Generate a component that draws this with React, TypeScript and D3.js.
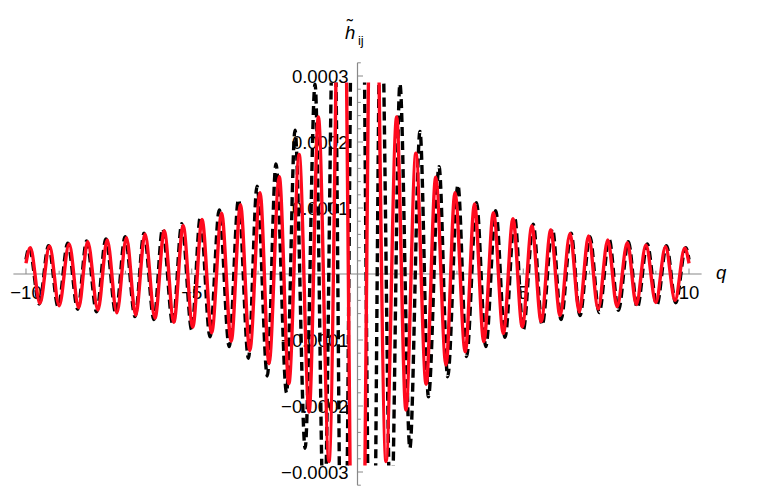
import React from "react";
import * as d3 from "d3";

// extrema (q, h)
const redSeries: [number, number][] = [
  [-10.0, 0.0000162], [-9.87, 0.0000398], [-9.58, -0.0000444], [-9.29, 0.0000424],
  [-9.0, -0.000048], [-8.7, 0.0000455], [-8.41, -0.000051], [-8.14, 0.000049],
  [-7.83, -0.0000545], [-7.55, 0.0000515], [-7.26, -0.0000586], [-6.97, 0.000055],
  [-6.69, -0.0000626], [-6.41, 0.0000606], [-6.11, -0.000067], [-5.83, 0.0000652],
  [-5.54, -0.000073], [-5.26, 0.0000732], [-4.97, -0.0000805], [-4.69, 0.0000825],
  [-4.4, -0.000089], [-4.1, 0.000092], [-3.81, -0.000102], [-3.53, 0.000105],
  [-3.25, -0.000116], [-2.94, 0.000123], [-2.67, -0.000136], [-2.36, 0.0001475],
  [-2.07, -0.000166], [-1.76, 0.000181], [-1.46, -0.000209], [-1.18, 0.000238],
  [-0.86, -0.000284], [-0.48, 0.00072], [0, -0.00113], [0.48, 0.00072],
  [0.86, -0.000284], [1.18, 0.000238], [1.46, -0.000206], [1.76, 0.000183],
  [2.07, -0.000167], [2.36, 0.0001465], [2.67, -0.000138], [2.94, 0.000123],
  [3.25, -0.000118], [3.53, 0.000106], [3.81, -0.0001025], [4.1, 0.000093],
  [4.4, -0.00009], [4.69, 0.0000836], [4.97, -0.00008], [5.26, 0.0000727],
  [5.54, -0.000072], [5.83, 0.0000667], [6.11, -0.000063], [6.41, 0.0000616],
  [6.69, -0.0000575], [6.97, 0.0000576], [7.26, -0.000053], [7.55, 0.0000515],
  [7.83, -0.0000495], [8.14, 0.0000475], [8.41, -0.0000462], [8.7, 0.000044],
  [9.0, -0.0000432], [9.29, 0.0000414], [9.58, -0.0000398], [9.87, 0.000039],
  [10.0, 0.0000162],
];

const blackSeries: [number, number][] = [
  [-10.0, 0.000022], [-9.9, 0.0000405], [-9.6, -0.0000455], [-9.32, 0.0000429],
  [-9.03, -0.0000495], [-8.74, 0.0000465], [-8.44, -0.0000535], [-8.17, 0.00005],
  [-7.87, -0.0000571], [-7.59, 0.000053], [-7.29, -0.0000596], [-7.01, 0.0000565],
  [-6.71, -0.0000646], [-6.44, 0.0000617], [-6.14, -0.000069], [-5.88, 0.0000686],
  [-5.57, -0.0000765], [-5.3, 0.0000762], [-5.0, -0.0000848], [-4.74, 0.0000864],
  [-4.45, -0.000095], [-4.17, 0.000097], [-3.87, -0.00011], [-3.59, 0.000113],
  [-3.29, -0.0001277], [-3.03, 0.000133], [-2.72, -0.0001545], [-2.46, 0.0001667],
  [-2.14, -0.00018], [-1.885, 0.000218], [-1.58, -0.000264], [-1.28, 0.000288],
  [-1.01, -0.0004], [-0.71, 0.00045], [-0.44, -0.0007], [0, 0.0012],
  [0.44, -0.0007], [0.71, 0.00045], [1.01, -0.0004], [1.28, 0.000288],
  [1.58, -0.000264], [1.885, 0.000216], [2.14, -0.000186], [2.46, 0.0001626],
  [2.72, -0.0001556], [3.03, 0.000135], [3.29, -0.000125], [3.59, 0.000108],
  [3.87, -0.00011], [4.17, 0.000096], [4.45, -0.000096], [4.74, 0.0000855],
  [5.0, -0.0000848], [5.3, 0.0000755], [5.57, -0.0000773], [5.88, 0.0000685],
  [6.14, -0.000069], [6.44, 0.000062], [6.71, -0.000063], [7.01, 0.0000567],
  [7.29, -0.0000585], [7.59, 0.0000525], [7.87, -0.000055], [8.17, 0.000049],
  [8.44, -0.000051], [8.74, 0.0000455], [9.03, -0.000047], [9.32, 0.000043],
  [9.6, -0.0000435], [9.9, 0.00004], [10.0, 0.000022],
];

const xTickValues = [-10, -5, 5, 10];
const xTickLabels = ["\u221210", "\u22125", "5", "10"];
const yTickValues = [-0.0003, -0.0002, -0.0001, 0.0001, 0.0002, 0.0003];
const yTickLabels = ["\u22120.0003", "\u22120.0002", "\u22120.0001", "0.0001", "0.0002", "0.0003"];

const W = 780;
const H = 498;
const FONT = "'Liberation Sans', Arial, sans-serif";

export default function App() {
  const x = d3.scaleLinear().domain([-10.38, 10.38]).range([13.4, 701.6]);
  const y = d3.scaleLinear().domain([-0.00032, 0.00032]).range([485.2, 62.8]);
  const clipTop = y(0.00029);
  const clipBottom = y(-0.00029);

  const line = d3
    .line<[number, number]>()
    .x((d) => x(d[0]))
    .y((d) => y(d[1]))
    .curve(d3.curveMonotoneX);

  const x0 = x(0);
  const y0 = y(0);

  const xMinor = d3.range(-10, 11, 1).filter((v) => v !== 0 && !xTickValues.includes(v));
  const yMinor = d3
    .range(-16, 17, 1)
    .map((k) => k * 0.00002)
    .filter((v, i) => (i - 16) % 5 !== 0);

  const axisColor = "#888";

  return (
    <svg
      width={W}
      height={H}
      style={{ position: "absolute", left: 0, top: 0, background: "#fff" }}
    >
      <defs>
        <clipPath id="plotClip">
          <rect x={x(-10.38)} y={clipTop} width={x(10.38) - x(-10.38)} height={clipBottom - clipTop} />
        </clipPath>
      </defs>

      {/* x axis */}
      <line x1={x(-10.38)} x2={x(10.38)} y1={y0} y2={y0} stroke={axisColor} strokeWidth={1.2} />
      {xMinor.map((v) => (
        <line key={"xm" + v} x1={x(v)} x2={x(v)} y1={y0} y2={y0 - 3.3} stroke={axisColor} strokeWidth={1} />
      ))}
      {xTickValues.map((v, i) => (
        <g key={"xt" + v}>
          <line x1={x(v)} x2={x(v)} y1={y0} y2={y0 - 5.5} stroke={axisColor} strokeWidth={1} />
          <text x={x(v)} y={y0 + 24.5} textAnchor="middle" fontFamily={FONT} fontSize={18.5} fill="#000">
            {xTickLabels[i]}
          </text>
        </g>
      ))}

      {/* y axis */}
      <line x1={x0} x2={x0} y1={y(-0.00032)} y2={y(0.00032)} stroke={axisColor} strokeWidth={1.2} />
      {yMinor.map((v) => (
        <line key={"ym" + v} x1={x0} x2={x0 + 3.3} y1={y(v)} y2={y(v)} stroke={axisColor} strokeWidth={1} />
      ))}
      {yTickValues.map((v, i) => (
        <g key={"yt" + v}>
          <line x1={x0} x2={x0 + 5.5} y1={y(v)} y2={y(v)} stroke={axisColor} strokeWidth={1} />
          <text x={x0 - 9} y={y(v) + 6.6} textAnchor="end" fontFamily={FONT} fontSize={18.5} fill="#000">
            {yTickLabels[i]}
          </text>
        </g>
      ))}

      {/* axis labels */}
      <text x={716} y={279} fontFamily={FONT} fontSize={18.5} fontStyle="italic" fill="#000">
        q
      </text>
      <text x={345} y={39} fontFamily={FONT} fontSize={18.5} fontStyle="italic" fill="#000">
        h
        <tspan dx={-8.5} dy={-7} fontStyle="normal">
          ˜
        </tspan>
        <tspan dx={5} dy={13} fontStyle="normal" fontSize={13}>
          ij
        </tspan>
      </text>

      {/* curves */}
      <g clipPath="url(#plotClip)">
        <path
          d={line(blackSeries) || ""}
          fill="none"
          stroke="#000"
          strokeWidth={3.4}
          strokeDasharray="9 5"
        />
        <path d={line(redSeries) || ""} fill="none" stroke="rgb(255,10,30)" strokeWidth={3.4} />
      </g>
    </svg>
  );
}
